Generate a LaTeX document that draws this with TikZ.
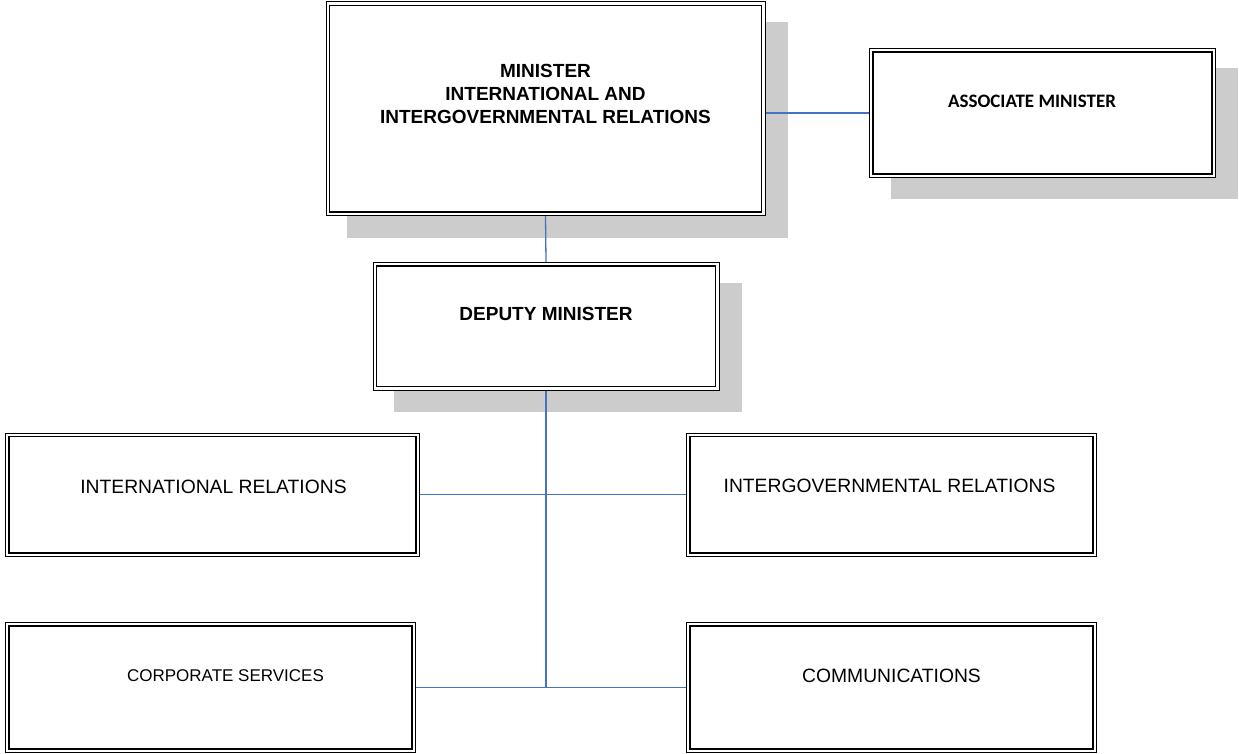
\documentclass[tikz,border=0pt]{standalone}
\usepackage{fontspec}
\setmainfont{Liberation Sans}
\newfontfamily\calib{Carlito}
\usetikzlibrary{backgrounds}
\definecolor{shadowgray}{RGB}{204,204,204}
\definecolor{linkblue}{RGB}{68,114,196}
\begin{document}
\begin{tikzpicture}[x=1pt,y=-1pt,
  box/.style={draw, fill=white, line width=1pt, inner sep=0pt, anchor=north west},
  inner/.style={line width=1.6pt},
  shadowfill/.style={fill=shadowgray},
  link/.style={draw=linkblue, line width=1.3pt},
  txt/.style={inner sep=0pt, font=\fontsize{19.3}{23}\selectfont},
  btxt/.style={inner sep=0pt, font=\fontsize{19}{23}\selectfont\bfseries}]
\useasboundingbox (0,0) rectangle (1239,754);
% boxes
\node[box, minimum width=439pt, minimum height=213.5pt] (min) at (325.5,1.5) {};
\node[box, minimum width=346pt, minimum height=129pt] (assoc) at (869,48) {};
\node[box, minimum width=346pt, minimum height=127.5pt] (dep) at (372.5,262) {};
\node[box, minimum width=414pt, minimum height=123.5pt] (intl) at (5,432.5) {};
\node[box, minimum width=410pt, minimum height=123.5pt] (intg) at (686,432.5) {};
\node[box, minimum width=410pt, minimum height=130pt] (corp) at (5,622) {};
\node[box, minimum width=410pt, minimum height=130pt] (comm) at (686,622) {};
% inner borders
\foreach \n in {min,assoc,dep,intl,intg,corp,comm}
  \draw[inner] ([shift={(4,4)}]\n.north west) rectangle ([shift={(-4,-4)}]\n.south east);
% shadows
\begin{scope}[on background layer]
\foreach \n in {min,assoc,dep}
  \fill[shadowfill] ([shift={(21.5,20.5)}]\n.north west) rectangle ([shift={(22,21.5)}]\n.south east);
\end{scope}
% texts
\node[btxt, align=center] (mintext) at (545.5,94) {MINISTER\\INTERNATIONAL AND\\INTERGOVERNMENTAL RELATIONS};
\node[inner sep=0pt, font=\calib\fontsize{19}{23}\selectfont\bfseries] (assoctext) at (1032,101) {ASSOCIATE MINISTER};
\node[btxt] (deptext) at (546,314) {DEPUTY MINISTER};
\node[txt] (intltext) at (213.5,486.5) {INTERNATIONAL RELATIONS};
\node[txt] (intgtext) at (889.5,486) {INTERGOVERNMENTAL RELATIONS};
\node[inner sep=0pt, font=\fontsize{17}{21}\selectfont] (corptext) at (225.5,676) {CORPORATE SERVICES};
\node[txt] (commtext) at (891.5,676) {COMMUNICATIONS};
% connectors
\draw[link] (assoc.west -| min.east) -- (assoc.west);
\draw[link] (min.south) -- (dep.north);
\draw[link] (dep.south) -- (dep.south |- corp.east);
\draw[link] (intl.east) -- (intg.west);
\draw[link] (corp.east) -- (comm.west);
\end{tikzpicture}
\end{document}
